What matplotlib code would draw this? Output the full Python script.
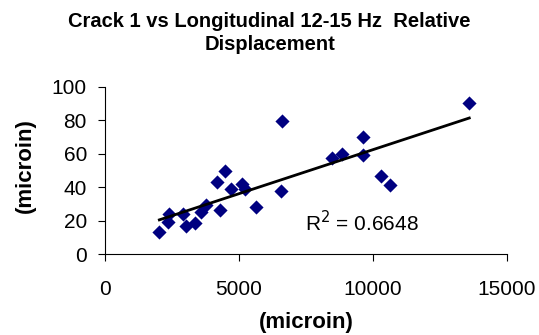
import numpy as np
import matplotlib
matplotlib.use("Agg")
import matplotlib.pyplot as plt

plt.rcParams['font.family'] = ['Liberation Sans', 'DejaVu Sans']

x_vals = [2028, 2390, 2365, 2925, 3025, 3373, 3573, 3772, 4194, 4494, 4295, 4693,
          5104, 5228, 5627, 6610, 6560, 8488, 8838, 9623, 9623, 10280, 10617, 13592]
y_vals = [13.3, 23.8, 19.3, 24.0, 16.8, 18.7, 25.0, 29.3, 43.0, 49.9, 26.3, 38.7,
          41.7, 38.7, 28.3, 79.6, 37.9, 57.7, 59.7, 70.2, 59.3, 46.7, 41.1, 90.2]
title_lines = ["Crack 1 vs Longitudinal 12-15 Hz  Relative", "Displacement"]
xlabel = "(microin)"
ylabel = "(microin)"
r2_text = "R$^2$ = 0.6648"
x_ticks = [0, 5000, 10000, 15000]
y_ticks = [0, 20, 40, 60, 80, 100]

x = np.array(x_vals)
y = np.array(y_vals)

W, H = 539, 335
fig = plt.figure(figsize=(W / 100, H / 100), dpi=100)
ax = fig.add_axes([105 / W, 1 - 254 / H, (507 - 105) / W, (254 - 87) / H])

ax.scatter(x, y, marker='D', s=52, color='#000080', zorder=3, linewidths=0)
m, b = np.polyfit(x, y, 1)
xl = np.array([x.min(), x.max()])
ax.plot(xl, m * xl + b, color='black', lw=2.0, zorder=4)

ax.set_xlim(0, 15000)
ax.set_ylim(0, 100)
ax.set_xticks(x_ticks)
ax.set_yticks(y_ticks)
ax.tick_params(axis='both', labelsize=15, direction='out', length=5, width=0.8, color='black')
ax.tick_params(axis='x', pad=14)
ax.tick_params(axis='y', pad=8)
ax.spines['top'].set_visible(False)
ax.spines['right'].set_visible(False)
for s in ['left', 'bottom']:
    ax.spines[s].set_linewidth(0.8)

ax.set_xlabel(xlabel, fontsize=16, fontweight='bold')
ax.xaxis.set_label_coords(0.5, -0.35)
ax.set_ylabel(ylabel, fontsize=16, fontweight='bold')
ax.yaxis.set_label_coords(-0.172, 0.53)

fig.text(0.5, 1 - 27 / H, title_lines[0], fontsize=14.5, fontweight='bold',
         ha='center', va='baseline')
fig.text(0.5, 1 - 50 / H, title_lines[1], fontsize=14.5, fontweight='bold',
         ha='center', va='baseline')

ax.text(9600, 13.4, r2_text, fontsize=15, ha='center', va='baseline')

fig.savefig('out.png', dpi=100)
